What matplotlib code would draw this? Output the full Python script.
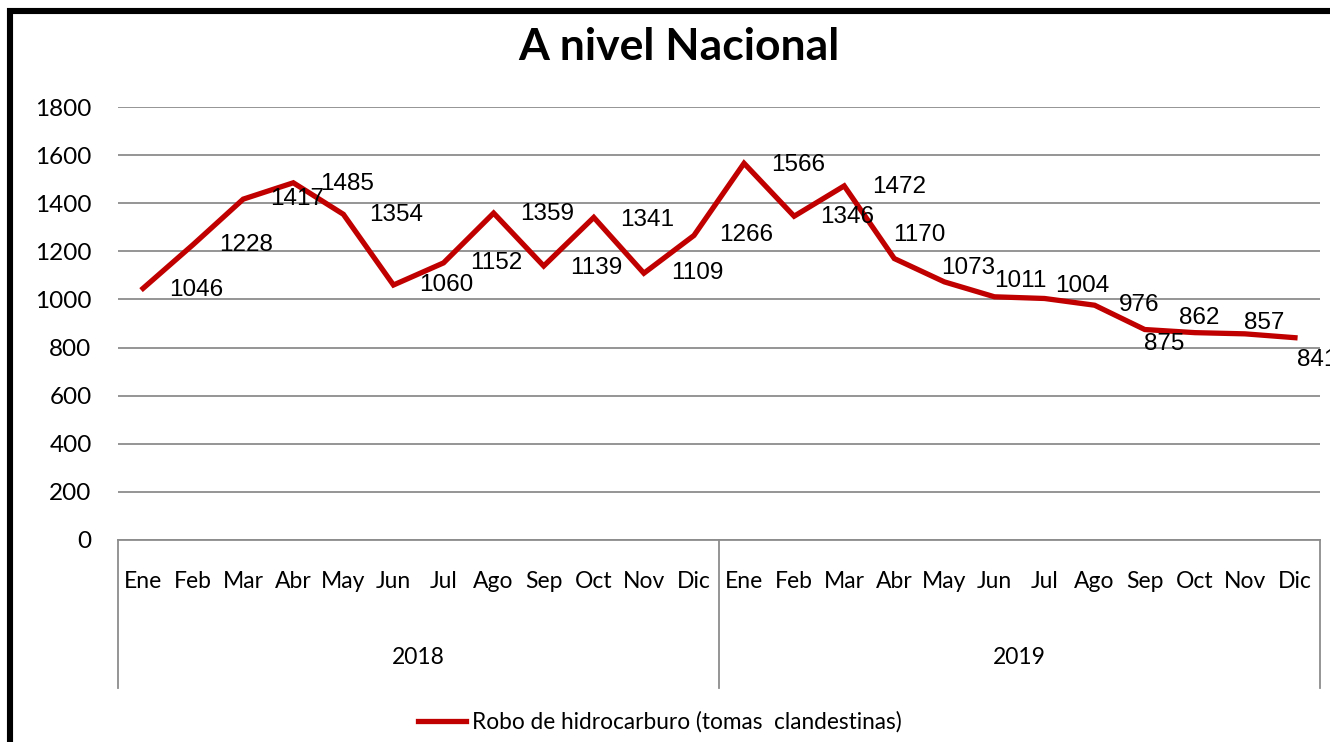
import numpy as np
import matplotlib
matplotlib.use('Agg')
import matplotlib.pyplot as plt
from matplotlib.lines import Line2D
from matplotlib.patches import Rectangle

months = ['Ene', 'Feb', 'Mar', 'Abr', 'May', 'Jun', 'Jul', 'Ago', 'Sep', 'Oct', 'Nov', 'Dic']
years = ['2018', '2019']
robo_2018 = [1046, 1228, 1417, 1485, 1354, 1060, 1152, 1359, 1139, 1341, 1109, 1266]
robo_2019 = [1566, 1346, 1472, 1170, 1073, 1011, 1004, 976, 875, 862, 857, 841]
serie = 'Robo de hidrocarburo (tomas  clandestinas)'

# posicion de las etiquetas respecto al punto (pixeles, dx derecha, dy abajo)
label_offsets = [(53, 2), (53, 0), (54, 0), (54, 1), (53, 1), (53, 0), (53, 0), (53, 1),
                 (53, 2), (53, 3), (53, 0), (52, 0), (54, 2), (53, 1), (55, 1), (25, -24),
                 (24, -14), (26, -16), (38, -12), (44, 0), (19, 14), (4, -15), (19, -11), (22, 22)]

W, H = 1330, 742
valores = robo_2018 + robo_2019
x = np.arange(len(valores))

fig = plt.figure(figsize=(W / 100, H / 100), dpi=100)
ax = fig.add_axes([118 / W, 1 - 540 / H, (1320 - 118) / W, (540 - 107) / H])

gris = '#8c8c8c'
ax.set_xlim(-0.5, len(valores) - 0.5)
ax.set_ylim(0, 1800)
ax.set_yticks(np.arange(0, 1801, 200))
ax.yaxis.grid(True, color=gris, lw=1.3)
ax.set_axisbelow(True)
for s in ['left', 'right', 'top']:
    ax.spines[s].set_visible(False)
ax.spines['bottom'].set_color(gris)
ax.spines['bottom'].set_linewidth(1.3)
ax.tick_params(axis='y', length=0, pad=19, labelsize=17.5, labelcolor='black')
ax.tick_params(axis='x', length=0, labelbottom=False)
for t in ax.get_yticklabels():
    t.set_fontfamily('Lato')

ax.plot(x, valores, color='#c00000', lw=3.8, solid_joinstyle='miter', label=serie)

for i, v in enumerate(valores):
    dx, dy = label_offsets[i]
    ax.annotate(str(v), (x[i], v), xytext=(dx, -dy), textcoords='offset pixels',
                ha='center', va='center', fontsize=17.5, family='Liberation Sans',
                annotation_clip=False)

# eje de categorias en dos niveles
tr = ax.get_xaxis_transform()
for i, m in enumerate(months * len(years)):
    ax.text(x[i], -(581 - 540) / 433, m, transform=tr, ha='center', va='center',
            fontsize=16.5, family='Lato')
for j, yr in enumerate(years):
    ax.text(j * 12 + 5.5, -(657 - 540) / 433, yr, transform=tr, ha='center', va='center',
            fontsize=16.5, family='Lato')
for xs in [-0.5, 11.5, 23.5]:
    ax.add_line(Line2D([xs, xs], [0, -(688 - 540) / 433], transform=tr, color=gris,
                       lw=1.3, clip_on=False))

fig.text(679 / W, 1 - 47 / H, 'A nivel Nacional', ha='center', va='center',
         fontsize=32, fontweight='bold', family='Lato')

fig.legend(loc='center', bbox_to_anchor=(660 / W, 1 - 722 / H), frameon=False,
           prop={'family': 'Lato', 'size': 16.3}, handlelength=2.1, handletextpad=0.3)

fig.add_artist(Rectangle((10 / W, -0.1), 1.2, 1.1 - 11 / H, transform=fig.transFigure,
                         fill=False, edgecolor='black', lw=4.4))

fig.savefig('out.png', dpi=100)
